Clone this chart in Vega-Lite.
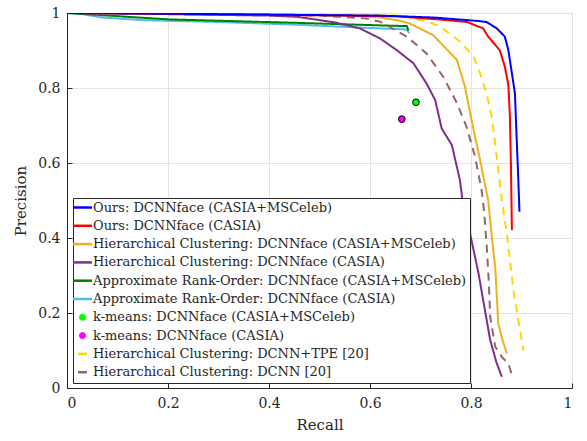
{
  "$schema": "https://vega.github.io/schema/vega-lite/v6.json",
  "width": 505,
  "height": 375,
  "autosize": {"type": "none"},
  "padding": {"left": 67, "top": 13, "right": 15, "bottom": 53},
  "background": "white",
  "config": {
    "view": {"stroke": "#262626", "strokeWidth": 1},
    "font": "DejaVu Serif",
    "axis": {
      "labelFont": "DejaVu Serif",
      "titleFont": "DejaVu Serif",
      "labelFontSize": 14,
      "titleFontSize": 15,
      "titleFontWeight": "normal",
      "labelColor": "#262626",
      "titleColor": "#262626",
      "domainColor": "#262626",
      "tickColor": "#262626",
      "gridColor": "#E3E3E3",
      "gridOpacity": 1
    }
  },
  "datasets": {
    "curves": [
      {"method": "Approximate Rank-Order: DCNNface (CASIA)", "recall": 0.0, "precision": 1.0},
      {"method": "Approximate Rank-Order: DCNNface (CASIA)", "recall": 0.03, "precision": 0.997},
      {"method": "Approximate Rank-Order: DCNNface (CASIA)", "recall": 0.07, "precision": 0.988},
      {"method": "Approximate Rank-Order: DCNNface (CASIA)", "recall": 0.15, "precision": 0.981},
      {"method": "Approximate Rank-Order: DCNNface (CASIA)", "recall": 0.3, "precision": 0.976},
      {"method": "Approximate Rank-Order: DCNNface (CASIA)", "recall": 0.45, "precision": 0.969},
      {"method": "Approximate Rank-Order: DCNNface (CASIA)", "recall": 0.584, "precision": 0.961},
      {"method": "Approximate Rank-Order: DCNNface (CASIA)", "recall": 0.673, "precision": 0.956},
      {"method": "Approximate Rank-Order: DCNNface (CASIA)", "recall": 0.678, "precision": 0.946},

      {"method": "Approximate Rank-Order: DCNNface (CASIA+MSCeleb)", "recall": 0.0, "precision": 1.0},
      {"method": "Approximate Rank-Order: DCNNface (CASIA+MSCeleb)", "recall": 0.05, "precision": 0.996},
      {"method": "Approximate Rank-Order: DCNNface (CASIA+MSCeleb)", "recall": 0.118, "precision": 0.99},
      {"method": "Approximate Rank-Order: DCNNface (CASIA+MSCeleb)", "recall": 0.2, "precision": 0.983},
      {"method": "Approximate Rank-Order: DCNNface (CASIA+MSCeleb)", "recall": 0.448, "precision": 0.974},
      {"method": "Approximate Rank-Order: DCNNface (CASIA+MSCeleb)", "recall": 0.62, "precision": 0.967},
      {"method": "Approximate Rank-Order: DCNNface (CASIA+MSCeleb)", "recall": 0.673, "precision": 0.965},
      {"method": "Approximate Rank-Order: DCNNface (CASIA+MSCeleb)", "recall": 0.676, "precision": 0.953},

      {"method": "Hierarchical Clustering: DCNN [20]", "recall": 0.0, "precision": 1.0},
      {"method": "Hierarchical Clustering: DCNN [20]", "recall": 0.2, "precision": 0.998},
      {"method": "Hierarchical Clustering: DCNN [20]", "recall": 0.4, "precision": 0.995},
      {"method": "Hierarchical Clustering: DCNN [20]", "recall": 0.5, "precision": 0.993},
      {"method": "Hierarchical Clustering: DCNN [20]", "recall": 0.59, "precision": 0.986},
      {"method": "Hierarchical Clustering: DCNN [20]", "recall": 0.62, "precision": 0.977},
      {"method": "Hierarchical Clustering: DCNN [20]", "recall": 0.673, "precision": 0.937},
      {"method": "Hierarchical Clustering: DCNN [20]", "recall": 0.712, "precision": 0.892},
      {"method": "Hierarchical Clustering: DCNN [20]", "recall": 0.745, "precision": 0.83},
      {"method": "Hierarchical Clustering: DCNN [20]", "recall": 0.772, "precision": 0.76},
      {"method": "Hierarchical Clustering: DCNN [20]", "recall": 0.791, "precision": 0.697},
      {"method": "Hierarchical Clustering: DCNN [20]", "recall": 0.808, "precision": 0.617},
      {"method": "Hierarchical Clustering: DCNN [20]", "recall": 0.821, "precision": 0.528},
      {"method": "Hierarchical Clustering: DCNN [20]", "recall": 0.826, "precision": 0.47},
      {"method": "Hierarchical Clustering: DCNN [20]", "recall": 0.831, "precision": 0.38},
      {"method": "Hierarchical Clustering: DCNN [20]", "recall": 0.835, "precision": 0.29},
      {"method": "Hierarchical Clustering: DCNN [20]", "recall": 0.838, "precision": 0.19},
      {"method": "Hierarchical Clustering: DCNN [20]", "recall": 0.848, "precision": 0.11},
      {"method": "Hierarchical Clustering: DCNN [20]", "recall": 0.861, "precision": 0.083},
      {"method": "Hierarchical Clustering: DCNN [20]", "recall": 0.874, "precision": 0.065},
      {"method": "Hierarchical Clustering: DCNN [20]", "recall": 0.88, "precision": 0.039},

      {"method": "Hierarchical Clustering: DCNNface (CASIA)", "recall": 0.0, "precision": 1.0},
      {"method": "Hierarchical Clustering: DCNNface (CASIA)", "recall": 0.2, "precision": 0.997},
      {"method": "Hierarchical Clustering: DCNNface (CASIA)", "recall": 0.4, "precision": 0.993},
      {"method": "Hierarchical Clustering: DCNNface (CASIA)", "recall": 0.455, "precision": 0.99},
      {"method": "Hierarchical Clustering: DCNNface (CASIA)", "recall": 0.53, "precision": 0.975},
      {"method": "Hierarchical Clustering: DCNNface (CASIA)", "recall": 0.58, "precision": 0.959},
      {"method": "Hierarchical Clustering: DCNNface (CASIA)", "recall": 0.62, "precision": 0.932},
      {"method": "Hierarchical Clustering: DCNNface (CASIA)", "recall": 0.653, "precision": 0.901},
      {"method": "Hierarchical Clustering: DCNNface (CASIA)", "recall": 0.686, "precision": 0.866},
      {"method": "Hierarchical Clustering: DCNNface (CASIA)", "recall": 0.712, "precision": 0.812},
      {"method": "Hierarchical Clustering: DCNNface (CASIA)", "recall": 0.729, "precision": 0.768},
      {"method": "Hierarchical Clustering: DCNNface (CASIA)", "recall": 0.742, "precision": 0.692},
      {"method": "Hierarchical Clustering: DCNNface (CASIA)", "recall": 0.762, "precision": 0.648},
      {"method": "Hierarchical Clustering: DCNNface (CASIA)", "recall": 0.778, "precision": 0.555},
      {"method": "Hierarchical Clustering: DCNNface (CASIA)", "recall": 0.783, "precision": 0.501},
      {"method": "Hierarchical Clustering: DCNNface (CASIA)", "recall": 0.8, "precision": 0.4},
      {"method": "Hierarchical Clustering: DCNNface (CASIA)", "recall": 0.815, "precision": 0.305},
      {"method": "Hierarchical Clustering: DCNNface (CASIA)", "recall": 0.824, "precision": 0.235},
      {"method": "Hierarchical Clustering: DCNNface (CASIA)", "recall": 0.838, "precision": 0.128},
      {"method": "Hierarchical Clustering: DCNNface (CASIA)", "recall": 0.85, "precision": 0.07},
      {"method": "Hierarchical Clustering: DCNNface (CASIA)", "recall": 0.861, "precision": 0.03},

      {"method": "Hierarchical Clustering: DCNN+TPE [20]", "recall": 0.0, "precision": 1.0},
      {"method": "Hierarchical Clustering: DCNN+TPE [20]", "recall": 0.3, "precision": 0.998},
      {"method": "Hierarchical Clustering: DCNN+TPE [20]", "recall": 0.55, "precision": 0.996},
      {"method": "Hierarchical Clustering: DCNN+TPE [20]", "recall": 0.657, "precision": 0.993},
      {"method": "Hierarchical Clustering: DCNN+TPE [20]", "recall": 0.686, "precision": 0.986},
      {"method": "Hierarchical Clustering: DCNN+TPE [20]", "recall": 0.718, "precision": 0.975},
      {"method": "Hierarchical Clustering: DCNN+TPE [20]", "recall": 0.739, "precision": 0.964},
      {"method": "Hierarchical Clustering: DCNN+TPE [20]", "recall": 0.778, "precision": 0.924},
      {"method": "Hierarchical Clustering: DCNN+TPE [20]", "recall": 0.805, "precision": 0.884},
      {"method": "Hierarchical Clustering: DCNN+TPE [20]", "recall": 0.818, "precision": 0.839},
      {"method": "Hierarchical Clustering: DCNN+TPE [20]", "recall": 0.831, "precision": 0.786},
      {"method": "Hierarchical Clustering: DCNN+TPE [20]", "recall": 0.841, "precision": 0.723},
      {"method": "Hierarchical Clustering: DCNN+TPE [20]", "recall": 0.851, "precision": 0.617},
      {"method": "Hierarchical Clustering: DCNN+TPE [20]", "recall": 0.861, "precision": 0.501},
      {"method": "Hierarchical Clustering: DCNN+TPE [20]", "recall": 0.871, "precision": 0.412},
      {"method": "Hierarchical Clustering: DCNN+TPE [20]", "recall": 0.884, "precision": 0.261},
      {"method": "Hierarchical Clustering: DCNN+TPE [20]", "recall": 0.895, "precision": 0.17},
      {"method": "Hierarchical Clustering: DCNN+TPE [20]", "recall": 0.904, "precision": 0.1},

      {"method": "Hierarchical Clustering: DCNNface (CASIA+MSCeleb)", "recall": 0.0, "precision": 1.0},
      {"method": "Hierarchical Clustering: DCNNface (CASIA+MSCeleb)", "recall": 0.2, "precision": 0.998},
      {"method": "Hierarchical Clustering: DCNNface (CASIA+MSCeleb)", "recall": 0.4, "precision": 0.996},
      {"method": "Hierarchical Clustering: DCNNface (CASIA+MSCeleb)", "recall": 0.55, "precision": 0.993},
      {"method": "Hierarchical Clustering: DCNNface (CASIA+MSCeleb)", "recall": 0.62, "precision": 0.988},
      {"method": "Hierarchical Clustering: DCNNface (CASIA+MSCeleb)", "recall": 0.657, "precision": 0.98},
      {"method": "Hierarchical Clustering: DCNNface (CASIA+MSCeleb)", "recall": 0.679, "precision": 0.972},
      {"method": "Hierarchical Clustering: DCNNface (CASIA+MSCeleb)", "recall": 0.725, "precision": 0.941},
      {"method": "Hierarchical Clustering: DCNNface (CASIA+MSCeleb)", "recall": 0.772, "precision": 0.875},
      {"method": "Hierarchical Clustering: DCNNface (CASIA+MSCeleb)", "recall": 0.788, "precision": 0.804},
      {"method": "Hierarchical Clustering: DCNNface (CASIA+MSCeleb)", "recall": 0.801, "precision": 0.715},
      {"method": "Hierarchical Clustering: DCNNface (CASIA+MSCeleb)", "recall": 0.818, "precision": 0.608},
      {"method": "Hierarchical Clustering: DCNNface (CASIA+MSCeleb)", "recall": 0.834, "precision": 0.501},
      {"method": "Hierarchical Clustering: DCNNface (CASIA+MSCeleb)", "recall": 0.844, "precision": 0.368},
      {"method": "Hierarchical Clustering: DCNNface (CASIA+MSCeleb)", "recall": 0.848, "precision": 0.323},
      {"method": "Hierarchical Clustering: DCNNface (CASIA+MSCeleb)", "recall": 0.854, "precision": 0.172},
      {"method": "Hierarchical Clustering: DCNNface (CASIA+MSCeleb)", "recall": 0.862, "precision": 0.13},
      {"method": "Hierarchical Clustering: DCNNface (CASIA+MSCeleb)", "recall": 0.871, "precision": 0.092},

      {"method": "Ours: DCNNface (CASIA)", "recall": 0.0, "precision": 1.0},
      {"method": "Ours: DCNNface (CASIA)", "recall": 0.1, "precision": 0.999},
      {"method": "Ours: DCNNface (CASIA)", "recall": 0.3, "precision": 0.996},
      {"method": "Ours: DCNNface (CASIA)", "recall": 0.5, "precision": 0.994},
      {"method": "Ours: DCNNface (CASIA)", "recall": 0.657, "precision": 0.991},
      {"method": "Ours: DCNNface (CASIA)", "recall": 0.752, "precision": 0.981},
      {"method": "Ours: DCNNface (CASIA)", "recall": 0.792, "precision": 0.976},
      {"method": "Ours: DCNNface (CASIA)", "recall": 0.824, "precision": 0.959},
      {"method": "Ours: DCNNface (CASIA)", "recall": 0.834, "precision": 0.937},
      {"method": "Ours: DCNNface (CASIA)", "recall": 0.848, "precision": 0.915},
      {"method": "Ours: DCNNface (CASIA)", "recall": 0.857, "precision": 0.901},
      {"method": "Ours: DCNNface (CASIA)", "recall": 0.867, "precision": 0.857},
      {"method": "Ours: DCNNface (CASIA)", "recall": 0.874, "precision": 0.808},
      {"method": "Ours: DCNNface (CASIA)", "recall": 0.877, "precision": 0.723},
      {"method": "Ours: DCNNface (CASIA)", "recall": 0.879, "precision": 0.6},
      {"method": "Ours: DCNNface (CASIA)", "recall": 0.881, "precision": 0.421},

      {"method": "Ours: DCNNface (CASIA+MSCeleb)", "recall": 0.0, "precision": 1.0},
      {"method": "Ours: DCNNface (CASIA+MSCeleb)", "recall": 0.1, "precision": 0.999},
      {"method": "Ours: DCNNface (CASIA+MSCeleb)", "recall": 0.3, "precision": 0.997},
      {"method": "Ours: DCNNface (CASIA+MSCeleb)", "recall": 0.45, "precision": 0.995},
      {"method": "Ours: DCNNface (CASIA+MSCeleb)", "recall": 0.62, "precision": 0.993},
      {"method": "Ours: DCNNface (CASIA+MSCeleb)", "recall": 0.725, "precision": 0.988},
      {"method": "Ours: DCNNface (CASIA+MSCeleb)", "recall": 0.812, "precision": 0.979},
      {"method": "Ours: DCNNface (CASIA+MSCeleb)", "recall": 0.831, "precision": 0.976},
      {"method": "Ours: DCNNface (CASIA+MSCeleb)", "recall": 0.851, "precision": 0.959},
      {"method": "Ours: DCNNface (CASIA+MSCeleb)", "recall": 0.867, "precision": 0.937},
      {"method": "Ours: DCNNface (CASIA+MSCeleb)", "recall": 0.874, "precision": 0.901},
      {"method": "Ours: DCNNface (CASIA+MSCeleb)", "recall": 0.881, "precision": 0.839},
      {"method": "Ours: DCNNface (CASIA+MSCeleb)", "recall": 0.887, "precision": 0.786},
      {"method": "Ours: DCNNface (CASIA+MSCeleb)", "recall": 0.89, "precision": 0.679},
      {"method": "Ours: DCNNface (CASIA+MSCeleb)", "recall": 0.893, "precision": 0.58},
      {"method": "Ours: DCNNface (CASIA+MSCeleb)", "recall": 0.896, "precision": 0.47}
    ],
    "km": [
      {"method": "k-means: DCNNface (CASIA+MSCeleb)", "recall": 0.691, "precision": 0.762},
      {"method": "k-means: DCNNface (CASIA)", "recall": 0.663, "precision": 0.717}
    ]
  },
  "layer": [
    {
      "data": {"name": "curves"},
      "mark": {"type": "line", "strokeWidth": 2, "clip": true},
      "encoding": {
        "x": {
          "field": "recall", "type": "quantitative",
          "scale": {"domain": [0, 1], "nice": false},
          "axis": {"title": "Recall", "values": [0, 0.2, 0.4, 0.6, 0.8, 1], "format": ".1~f", "grid": true, "tickSize": -5, "labelPadding": 13, "titlePadding": 7}
        },
        "y": {
          "field": "precision", "type": "quantitative",
          "scale": {"domain": [0, 1], "nice": false},
          "axis": {"title": "Precision", "values": [0, 0.2, 0.4, 0.6, 0.8, 1], "format": ".1~f", "grid": true, "tickSize": -5, "labelPadding": 12, "titlePadding": 9}
        },
        "color": {
          "field": "method", "type": "nominal",
          "scale": {
            "domain": [
              "Ours: DCNNface (CASIA+MSCeleb)",
              "Ours: DCNNface (CASIA)",
              "Hierarchical Clustering: DCNNface (CASIA+MSCeleb)",
              "Hierarchical Clustering: DCNNface (CASIA)",
              "Approximate Rank-Order: DCNNface (CASIA+MSCeleb)",
              "Approximate Rank-Order: DCNNface (CASIA)",
              "k-means: DCNNface (CASIA+MSCeleb)",
              "k-means: DCNNface (CASIA)",
              "Hierarchical Clustering: DCNN+TPE [20]",
              "Hierarchical Clustering: DCNN [20]"
            ],
            "range": ["#0000FF", "#FF0000", "#EDB120", "#7E2F8E", "#008000", "#4DBEEE", "#00FF00", "#FF00FF", "#FFD700", "#956565"]
          },
          "legend": {
            "orient": "none", "legendX": 6, "legendY": 185,
            "title": null,
            "fillColor": "white", "strokeColor": "#262626",
            "padding": 3, "rowPadding": 4.3,
            "labelFont": "DejaVu Serif", "labelFontSize": 13, "labelColor": "#262626", "labelLimit": 0, "labelOffset": 4,
            "symbolType": "stroke", "symbolSize": 361, "symbolStrokeWidth": 2.5,
            "encode": {
              "symbols": {
                "update": {
                  "shape": {"signal": "datum.label === 'k-means: DCNNface (CASIA+MSCeleb)' || datum.label === 'k-means: DCNNface (CASIA)' ? 'circle' : 'stroke'"},
                  "size": {"signal": "datum.label === 'k-means: DCNNface (CASIA+MSCeleb)' || datum.label === 'k-means: DCNNface (CASIA)' ? 36 : (datum.label === 'Hierarchical Clustering: DCNN+TPE [20]' || datum.label === 'Hierarchical Clustering: DCNN [20]' ? 81 : 361)"},
                  "fill": {"signal": "datum.label === 'k-means: DCNNface (CASIA+MSCeleb)' ? '#00FF00' : (datum.label === 'k-means: DCNNface (CASIA)' ? '#FF00FF' : 'transparent')"},
                  "stroke": {"signal": "datum.label === 'k-means: DCNNface (CASIA+MSCeleb)' || datum.label === 'k-means: DCNNface (CASIA)' ? '#000000' : (datum.label === 'Ours: DCNNface (CASIA+MSCeleb)' ? '#0000FF' : (datum.label === 'Ours: DCNNface (CASIA)' ? '#FF0000' : (datum.label === 'Hierarchical Clustering: DCNNface (CASIA+MSCeleb)' ? '#EDB120' : (datum.label === 'Hierarchical Clustering: DCNNface (CASIA)' ? '#7E2F8E' : (datum.label === 'Approximate Rank-Order: DCNNface (CASIA+MSCeleb)' ? '#008000' : (datum.label === 'Approximate Rank-Order: DCNNface (CASIA)' ? '#4DBEEE' : (datum.label === 'Hierarchical Clustering: DCNN+TPE [20]' ? '#FFD700' : '#956565')))))))"},
                  "strokeWidth": {"signal": "datum.label === 'k-means: DCNNface (CASIA+MSCeleb)' || datum.label === 'k-means: DCNNface (CASIA)' ? 1 : 2.5"}
                }
              }
            }
          }
        },
        "strokeDash": {
          "field": "method", "type": "nominal",
          "scale": {
            "domain": [
              "Ours: DCNNface (CASIA+MSCeleb)",
              "Ours: DCNNface (CASIA)",
              "Hierarchical Clustering: DCNNface (CASIA+MSCeleb)",
              "Hierarchical Clustering: DCNNface (CASIA)",
              "Approximate Rank-Order: DCNNface (CASIA+MSCeleb)",
              "Approximate Rank-Order: DCNNface (CASIA)",
              "Hierarchical Clustering: DCNN+TPE [20]",
              "Hierarchical Clustering: DCNN [20]"
            ],
            "range": [[1, 0], [1, 0], [1, 0], [1, 0], [1, 0], [1, 0], [8, 6], [8, 6]]
          },
          "legend": null
        }
      }
    },
    {
      "data": {"name": "km"},
      "mark": {"type": "point", "filled": true, "stroke": "black", "strokeWidth": 1, "size": 45, "opacity": 1},
      "encoding": {
        "x": {"field": "recall", "type": "quantitative"},
        "y": {"field": "precision", "type": "quantitative"},
        "color": {"field": "method", "type": "nominal"}
      }
    }
  ]
}
